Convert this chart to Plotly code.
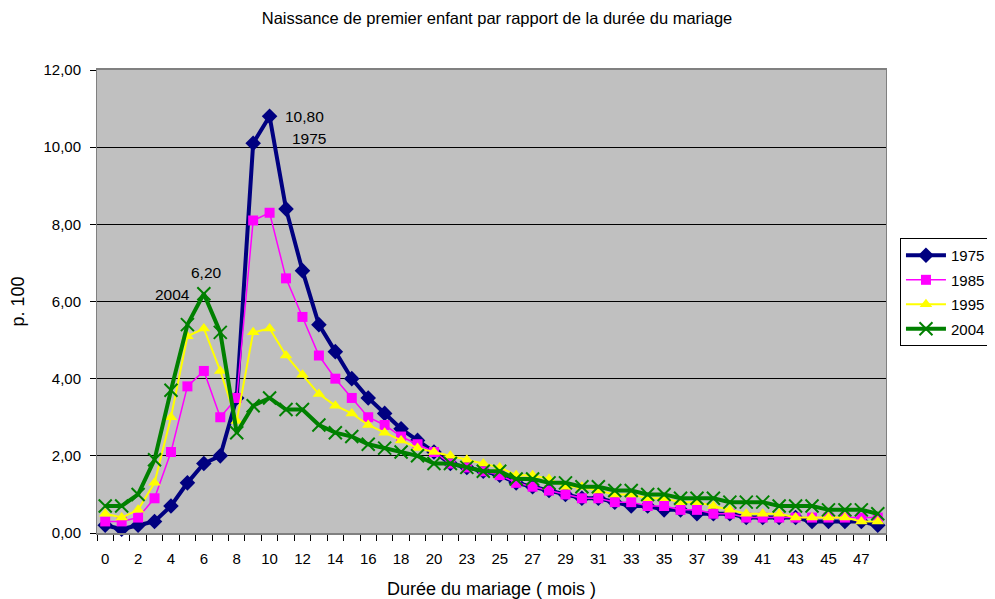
import plotly.graph_objects as go

# Category labels (months of marriage) as printed on the axis
month_labels = list(range(0, 22)) + list(range(23, 49))

s1975 = [0.2, 0.1, 0.2, 0.3, 0.7, 1.3, 1.8, 2.0, 3.5, 10.1, 10.8, 8.4, 6.8, 5.4, 4.7, 4.0,
         3.5, 3.1, 2.7, 2.4, 2.1, 1.8, 1.7, 1.6, 1.5, 1.3, 1.2, 1.1, 1.0, 0.9, 0.9, 0.8,
         0.7, 0.7, 0.6, 0.6, 0.5, 0.5, 0.5, 0.4, 0.4, 0.4, 0.4, 0.3, 0.3, 0.3, 0.3, 0.2]
s1985 = [0.3, 0.3, 0.4, 0.9, 2.1, 3.8, 4.2, 3.0, 3.5, 8.1, 8.3, 6.6, 5.6, 4.6, 4.0, 3.5,
         3.0, 2.8, 2.5, 2.3, 2.1, 1.8, 1.7, 1.6, 1.5, 1.3, 1.2, 1.1, 1.0, 0.9, 0.9, 0.8,
         0.8, 0.7, 0.7, 0.6, 0.6, 0.5, 0.5, 0.4, 0.4, 0.4, 0.4, 0.4, 0.4, 0.4, 0.4, 0.4]
s1995 = [0.5, 0.4, 0.6, 1.3, 3.0, 5.1, 5.3, 4.2, 2.9, 5.2, 5.3, 4.6, 4.1, 3.6, 3.3, 3.1,
         2.8, 2.6, 2.4, 2.2, 2.1, 2.0, 1.9, 1.8, 1.7, 1.5, 1.5, 1.4, 1.2, 1.2, 1.1, 1.0,
         1.0, 0.9, 0.9, 0.8, 0.8, 0.7, 0.6, 0.5, 0.5, 0.5, 0.4, 0.4, 0.4, 0.4, 0.3, 0.3]
s2004 = [0.7, 0.7, 1.0, 1.9, 3.7, 5.4, 6.2, 5.2, 2.6, 3.3, 3.5, 3.2, 3.2, 2.8, 2.6, 2.5,
         2.3, 2.2, 2.1, 2.0, 1.8, 1.8, 1.7, 1.6, 1.6, 1.4, 1.4, 1.3, 1.3, 1.2, 1.2, 1.1,
         1.1, 1.0, 1.0, 0.9, 0.9, 0.9, 0.8, 0.8, 0.8, 0.7, 0.7, 0.7, 0.6, 0.6, 0.6, 0.5]

y_ticks = [0, 2, 4, 6, 8, 10, 12]
y_tick_labels = ["0,00", "2,00", "4,00", "6,00", "8,00", "10,00", "12,00"]

idx = list(range(len(month_labels)))
FONT = "Liberation Sans, Arial, sans-serif"

# page has an 8px body margin: figure is sized/offset to compensate
W, H = 987, 591

fig = go.Figure()
series = [
    ("1975", s1975, "#000080", 4, "diamond", 12, None),
    ("1985", s1985, "#FF00FF", 1.5, "square", 10, None),
    ("1995", s1995, "#FFFF00", 2, "triangle-up", 11, None),
    ("2004", s2004, "#008000", 4, "x-thin", 13, 2),
]
for name, vals, col, lw, sym, ms, mlw in series:
    marker = dict(symbol=sym, size=ms, color=col)
    if mlw:
        marker["line"] = dict(color=col, width=mlw)
    fig.add_trace(go.Scatter(
        x=idx, y=vals, name=name, mode="lines+markers",
        line=dict(color=col, width=lw), marker=marker,
        legendgroup=name, cliponaxis=False,
    ))

def fr(v):
    return f"{v:.2f}".replace(".", ",")

i75 = s1975.index(max(s1975))
i04 = s2004.index(max(s2004))
ann = dict(showarrow=False, font=dict(family=FONT, size=15.5, color="black"))
fig.add_annotation(x=i75, y=s1975[i75], text=fr(s1975[i75]), xanchor="left",
                   xshift=13, yshift=0, **ann)
fig.add_annotation(x=i75, y=s1975[i75], text="1975", xanchor="left",
                   xshift=20, yshift=-22, **ann)
fig.add_annotation(x=i04, y=s2004[i04], text=fr(s2004[i04]), xanchor="left",
                   xshift=-15, yshift=21, **ann)
fig.add_annotation(x=i04, y=s2004[i04], text="2004", xanchor="right",
                   xshift=-12, yshift=-1, **ann)

fig.update_layout(
    width=W, height=H,
    margin=dict(l=89, r=109, t=62, b=66, autoexpand=False),
    paper_bgcolor="white", plot_bgcolor="#C0C0C0",
    font=dict(family=FONT, size=15, color="black"),
    title=dict(text="Naissance de premier enfant par rapport de la durée du mariage",
               x=(497 - 8) / W, xref="container", xanchor="center",
               y=1 - 10 / H, yref="container", yanchor="middle",
               font=dict(size=16.5)),
    showlegend=True,
    legend=dict(x=1.0177, y=0.637, xanchor="left", yanchor="top",
                bgcolor="white", bordercolor="black", borderwidth=1,
                font=dict(size=15), tracegroupgap=2, itemwidth=40),
    xaxis=dict(
        range=[-0.5, len(idx) - 0.5],
        tickvals=idx[::2], ticktext=[str(m) for m in month_labels[::2]],
        ticks="", showgrid=False, zeroline=False,
        showline=True, linecolor="#808080", linewidth=2, mirror=True,
        ticklabelstandoff=11,
        minor=dict(ticks="outside", ticklen=6, tickcolor="black", tickwidth=1,
                   tickmode="linear", tick0=-0.5, dtick=1, showgrid=False),
        title=dict(text="Durée du mariage ( mois )", standoff=17),
    ),
    yaxis=dict(
        range=[0, 12], tickvals=y_ticks, ticktext=y_tick_labels,
        ticks="outside", ticklen=6, tickcolor="black",
        showgrid=True, gridcolor="black", gridwidth=1, zeroline=False,
        showline=True, linecolor="#808080", linewidth=1, mirror=True,
        ticklabelstandoff=6,
        title=dict(text="p. 100", standoff=24),
    ),
)

fig.write_html("out.html")
